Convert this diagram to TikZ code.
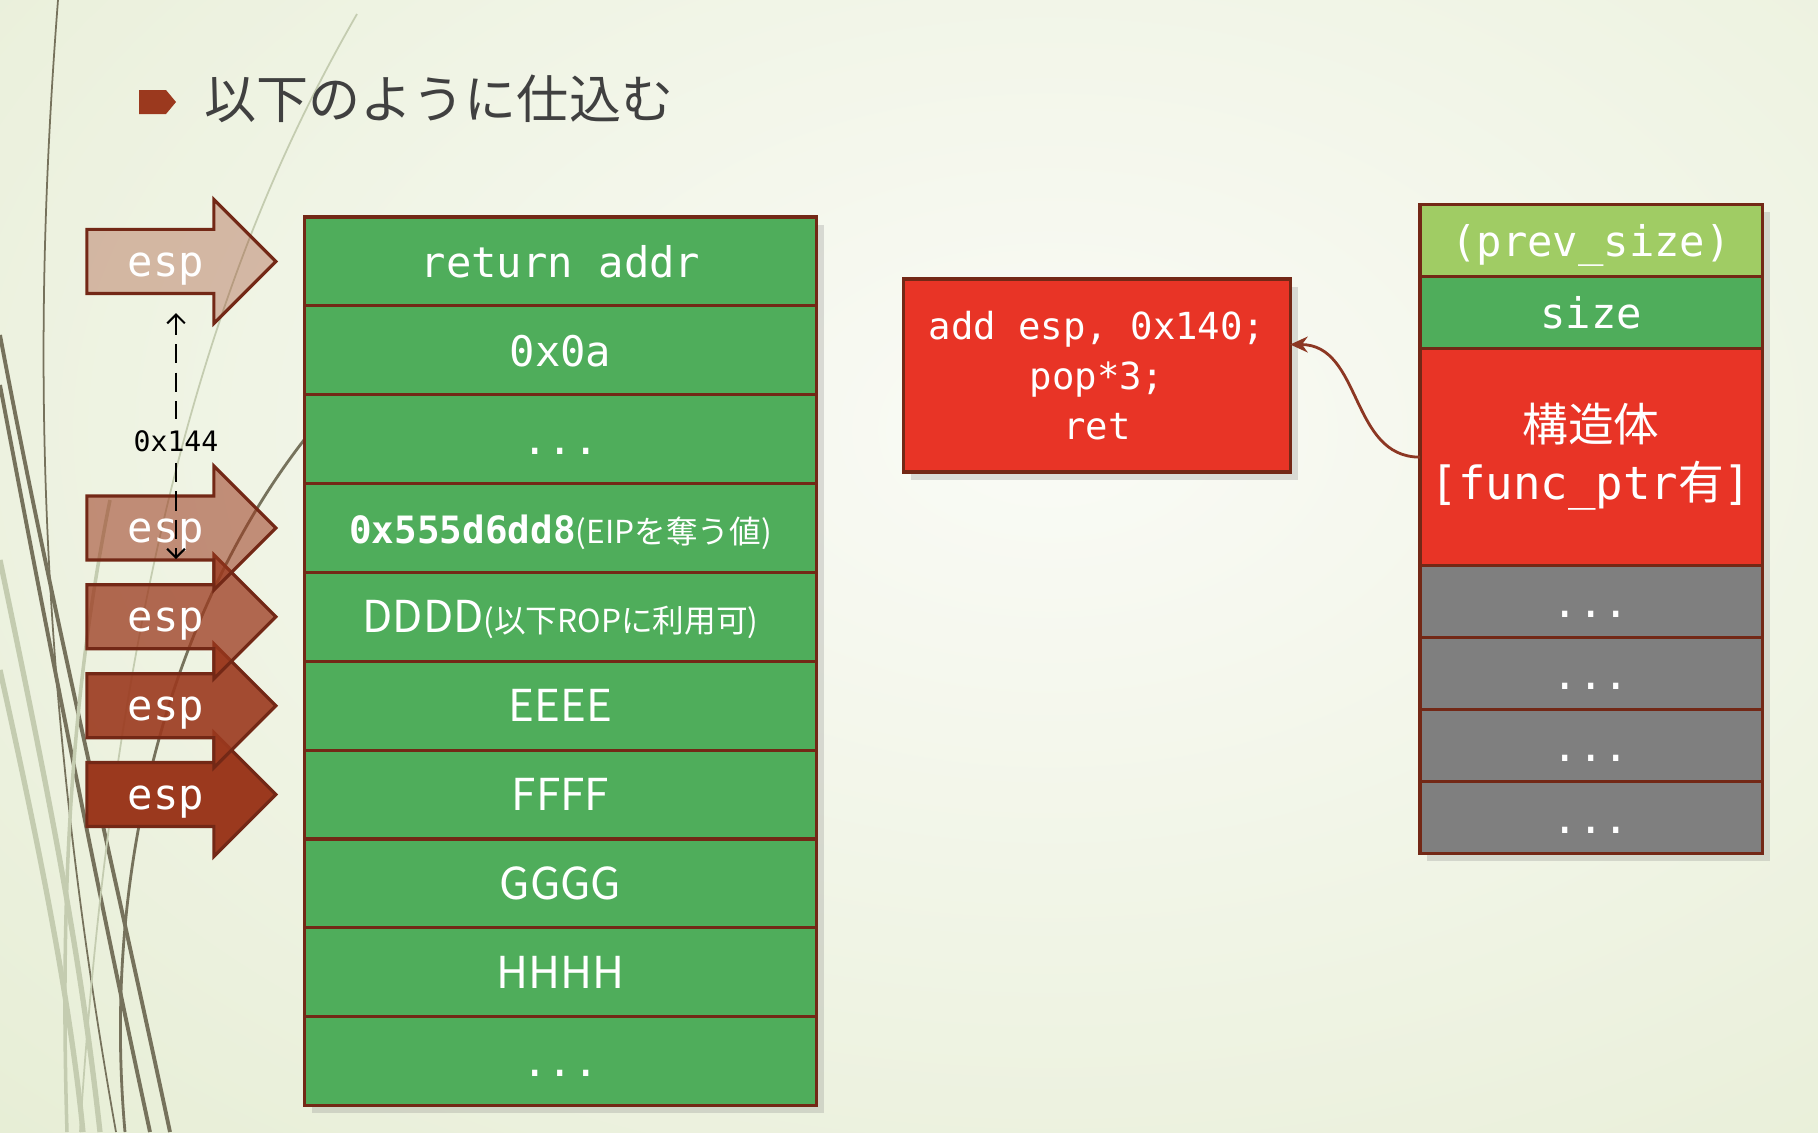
\documentclass[tikz,border=0pt]{standalone}
\usepackage{fontspec}
\setmonofont{DejaVu Sans Mono}
\newfontfamily\jp{Noto Sans CJK JP}
\usetikzlibrary{arrows.meta,shadows,calc,positioning}

\definecolor{cellgreen}{RGB}{79,173,91}
\definecolor{lightgreen}{RGB}{160,204,100}
\definecolor{cellred}{RGB}{232,52,38}
\definecolor{cellgray}{RGB}{127,127,127}
\definecolor{edge}{RGB}{115,40,22}
\definecolor{arrowred}{RGB}{155,57,30}
\definecolor{linkred}{RGB}{140,55,35}
\definecolor{bggreen}{RGB}{221,231,197}
\definecolor{bgwhite}{RGB}{250,251,246}
\definecolor{decodark}{RGB}{118,114,92}
\definecolor{decolight}{RGB}{196,204,176}
\definecolor{titlegray}{RGB}{64,64,64}

\tikzset{
  box/.style={draw=edge, line width=0.9pt, text=white, inner sep=0pt, outer sep=0pt,
    drop shadow={opacity=0.25}},
  mono/.style={font=\ttfamily\fontsize{12}{14}\selectfont},
  sans/.style={font=\jp\fontsize{12.5}{14}\selectfont},
  cell/.style={box, mono, fill=cellgreen, minimum width=5.11cm, minimum height=0.888cm,
    text height=9pt, text depth=0pt},
  chunk/.style={box, mono, minimum width=3.42cm, minimum height=0.72cm},
  chunkrow/.style={chunk, text height=9pt, text depth=0pt},
  codebox/.style={box, fill=cellred, minimum width=3.86cm, minimum height=1.93cm,
    align=center, font=\ttfamily\fontsize{10.6}{14.2}\selectfont},
  esplabel/.style={text=white, inner sep=0pt, anchor=base, mono},
  gaplabel/.style={inner sep=3pt, font=\ttfamily\fontsize{8}{10}\selectfont},
  gapline/.style={line width=0.6pt, dash pattern=on 5.5pt off 2.6pt},
  link/.style={draw=linkred, line width=0.8pt, -{Stealth[length=5pt,width=4.5pt]}},
  pics/esparrow/.style={code={
    \draw[draw=edge, line width=0.9pt, fill=arrowred, fill opacity=#1]
      (-189,-32) -- (-62,-32) -- (-62,-62) -- (0,0) -- (-62,62) -- (-62,32) -- (-189,32) -- cycle;
    \node[esplabel] (-text) at (-110,15) {esp};
  }},
}

\begin{document}
\begin{tikzpicture}[x=0.01cm, y=-0.01cm]
	\useasboundingbox (0,0) rectangle (1818,1132);

	% slide background
	\begin{scope}
		\clip (0,0) rectangle (1818,1132);
		\fill [bggreen] (0,0) rectangle (1818,1132);
		\shade [inner color=bgwhite, outer color=bggreen] (1050,430) ellipse (2300 and 1500);
		\draw [decodark, line width=0.5pt] (58,0) .. controls (35,300) and (30,650) .. (116,1132);
		\draw [decodark, line width=1.1pt] (0,335) .. controls (50,600) and (110,850) .. (170,1132);
		\draw [decodark, line width=1.1pt] (0,385) .. controls (50,650) and (100,900) .. (150,1132);
		\draw [decodark, line width=0.8pt] (304,440) .. controls (180,600) and (100,850) .. (125,1132);
		\draw [decolight, line width=0.5pt] (357,14) .. controls (250,200) and (120,500) .. (80,1132);
		\draw [decolight, line width=1.5pt] (0,560) .. controls (50,800) and (80,950) .. (100,1132);
		\draw [decolight, line width=1.5pt] (0,670) .. controls (40,850) and (70,1000) .. (83,1132);
		\draw [decolight, line width=1pt] (110,500) .. controls (70,700) and (60,900) .. (67,1132);
	\end{scope}

	% title
	\fill [arrowred] (139,90) -- (166,90) -- (176,102) -- (166,114) -- (139,114) -- cycle;
	\node [anchor=west, inner sep=0pt, text=titlegray, font=\jp\fontsize{14.8}{16}\selectfont] (title) at (204,99) {以下のように仕込む};

	% stack
	\node [cell] (s1) at (560.5,261.4) {return addr};
	\node [cell, below=0pt of s1] (s2) {0x0a};
	\node [cell, below=0pt of s2] (s3) {...};
	\node [cell, below=0pt of s3] (s4) {{\bfseries\fontsize{10.7}{12}\selectfont 0x555d6dd8}{\jp\fontsize{9}{11}\selectfont (EIPを奪う値)}};
	\node [cell, sans, below=0pt of s4] (s5) {DDDD{\fontsize{9}{11}\selectfont (以下ROPに利用可)}};
	\node [cell, sans, below=0pt of s5] (s6) {EEEE};
	\node [cell, sans, below=0pt of s6] (s7) {FFFF};
	\node [cell, sans, below=0pt of s7] (s8) {GGGG};
	\node [cell, sans, below=0pt of s8] (s9) {HHHH};
	\node [cell, below=0pt of s9] (s10) {...};

	% esp arrows
	\pic (e5) at ($(s7.west)+(-29,0)$) {esparrow=1};
	\pic (e4) at ($(s6.west)+(-29,0)$) {esparrow=0.9};
	\pic (e3) at ($(s5.west)+(-29,0)$) {esparrow=0.75};
	\pic (e2) at ($(s4.west)+(-29,0)$) {esparrow=0.55};
	\pic (e1) at ($(s1.west)+(-29,0)$) {esparrow=0.32};

	\coordinate (gtop) at (176,313);
	\coordinate (gbot) at (176,559);
	\node [gaplabel] (gap) at (176,441) {0x144};
	\draw [gapline, {Straight Barb[length=2.5pt]}-] (gtop) -- (gap);
	\draw [gapline, -{Straight Barb[length=2.5pt]}] (gap) -- (gbot);

	% gadget
	\node [codebox] (code) at (1097,375.5) {add esp, 0x140;\\pop*3;\\ret};

	% heap chunk
	\node [chunkrow, fill=lightgreen] (r1) at (1591,240.5) {(prev\_size)};
	\node [chunkrow, fill=cellgreen, below=0pt of r1] (r2) {size};
	\node [chunk, fill=cellred, minimum height=2.17cm, align=center,
		font=\ttfamily\fontsize{13}{16.5}\selectfont, below=0pt of r2] (r3) {{\jp 構造体}\\{}[func\_ptr{\jp 有}]};
	\node [chunkrow, fill=cellgray, below=0pt of r3] (r4) {...};
	\node [chunkrow, fill=cellgray, below=0pt of r4] (r5) {...};
	\node [chunkrow, fill=cellgray, below=0pt of r5] (r6) {...};
	\node [chunkrow, fill=cellgray, below=0pt of r6] (r7) {...};

	\draw [link] (r3.west) .. controls +(-70,0) and +(72,0) .. ($(code.east)+(0,-31)$);

\end{tikzpicture}
\end{document}
